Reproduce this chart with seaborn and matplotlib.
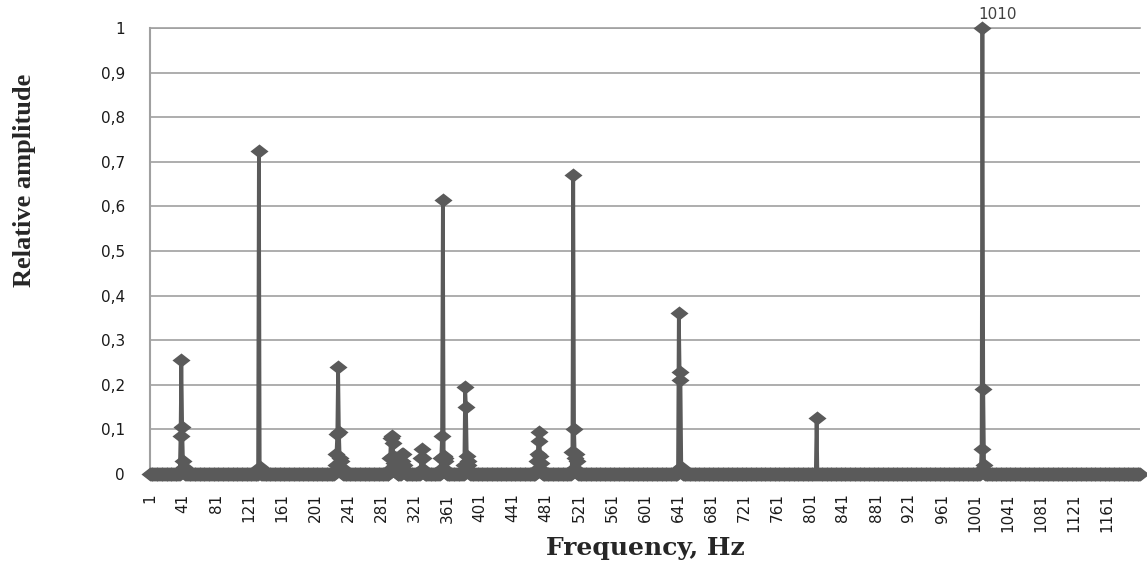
import numpy as np
import pandas as pd
import matplotlib
matplotlib.use("Agg")
import matplotlib.pyplot as plt
from matplotlib.path import Path
import seaborn as sns

# --- data (everything not listed sits at 0) ---
n_points = 1201
freq = np.arange(1, n_points + 1)

peak_freq = [38, 39, 40, 41, 42, 43,
             133, 134, 135,
             225, 226, 227, 228, 229, 230, 231, 232, 233, 234,
             291, 292, 293, 294, 295, 296, 297, 298, 299, 300,
             306, 307, 308, 309, 310,
             329, 330, 331, 332, 333,
             353, 354, 355, 356, 357, 358, 359, 360,
             382, 383, 384, 385, 386, 387, 388,
             469, 470, 471, 472, 473, 474, 475, 476,
             512, 513, 514, 515, 516, 517, 518, 519,
             641, 642, 643, 644, 645, 646,
             809,
             1008, 1009, 1010, 1011, 1012]
peak_amp = [0.085, 0.255, 0.105, 0.03, 0.015, 0.005,
            0.725, 0.015, 0.005,
            0.005, 0.02, 0.045, 0.09, 0.24, 0.095, 0.035, 0.03, 0.015, 0.005,
            0.01, 0.035, 0.08, 0.085, 0.07, 0.04, 0.025, 0.02, 0.035, 0.03,
            0.03, 0.045, 0.045, 0.02, 0.01,
            0.01, 0.035, 0.055, 0.035, 0.01,
            0.01, 0.035, 0.085, 0.615, 0.04, 0.03, 0.035, 0.01,
            0.02, 0.195, 0.15, 0.04, 0.03, 0.02, 0.01,
            0.01, 0.03, 0.045, 0.095, 0.075, 0.04, 0.025, 0.01,
            0.01, 0.05, 0.67, 0.1, 0.035, 0.045, 0.03, 0.01,
            0.01, 0.362, 0.228, 0.21, 0.015, 0.005,
            0.125,
            0.01, 0.055, 1.0, 0.19, 0.02]

amp = np.zeros(n_points)
amp[np.array(peak_freq) - 1] = peak_amp
df = pd.DataFrame({"freq": freq, "amp": amp})

x_ticks = list(range(1, 1162, 40))
y_ticks = [round(v * 0.1, 1) for v in range(11)]
y_labels = ["0" if v == 0 else ("1" if v == 1 else str(v).replace(".", ",")) for v in y_ticks]

# --- plot ---
sns.set_style("white")
plt.rcParams["font.family"] = ["DejaVu Sans"]

fig = plt.figure(figsize=(11.47, 5.66), dpi=100)
ax = fig.add_axes([150 / 1147, 1 - 474 / 566, 990 / 1147, 446 / 566])

# Excel-like diamond, a bit wider than tall
diamond = Path([(-1, 0), (0, 0.78), (1, 0), (0, -0.78), (-1, 0)],
               [Path.MOVETO, Path.LINETO, Path.LINETO, Path.LINETO, Path.CLOSEPOLY])
grey = "#5a5a5a"

sns.lineplot(data=df, x="freq", y="amp", ax=ax, color=grey, linewidth=2.7,
             sort=False, estimator=None, errorbar=None, clip_on=False, zorder=3)
sns.scatterplot(data=df, x="freq", y="amp", ax=ax, color=grey, marker=diamond,
                s=13 ** 2, linewidth=0, clip_on=False, zorder=4, legend=False)

ax.set_xlim(1, n_points)
ax.set_ylim(0, 1)
ax.set_xticks(x_ticks)
ax.set_xticklabels([str(t) for t in x_ticks], rotation=90, fontsize=11, color="#1a1a1a")
ax.set_yticks(y_ticks)
ax.set_yticklabels(y_labels, fontsize=11, color="#1a1a1a")
ax.tick_params(axis="y", length=0, pad=18)
ax.tick_params(axis="x", length=0, pad=14)

ax.grid(axis="y", color="#a0a0a0", linewidth=1.2)
ax.grid(axis="x", visible=False)
for side in ["right", "bottom"]:
    ax.spines[side].set_visible(False)
ax.spines["top"].set_color("#a0a0a0")
ax.spines["top"].set_linewidth(1.2)
ax.spines["left"].set_color("#a0a0a0")
ax.spines["left"].set_linewidth(1.5)
ax.set_xlabel("")
ax.set_ylabel("")

ax.annotate("1010", xy=(1010, 1.0), xytext=(-3, 9.5), textcoords="offset points",
            ha="left", va="center", fontsize=11, color="#404040")

fig.text(25 / 1147, 1 - 180 / 566, "Relative amplitude", rotation=90,
         ha="center", va="center", fontsize=19, fontweight="bold",
         family="Liberation Serif")
fig.text(645 / 1147, 1 - 555 / 566, "Frequency, Hz", ha="center", va="baseline",
         fontsize=18, fontweight="bold", family="DejaVu Serif")

fig.savefig("out.png", dpi=100)
